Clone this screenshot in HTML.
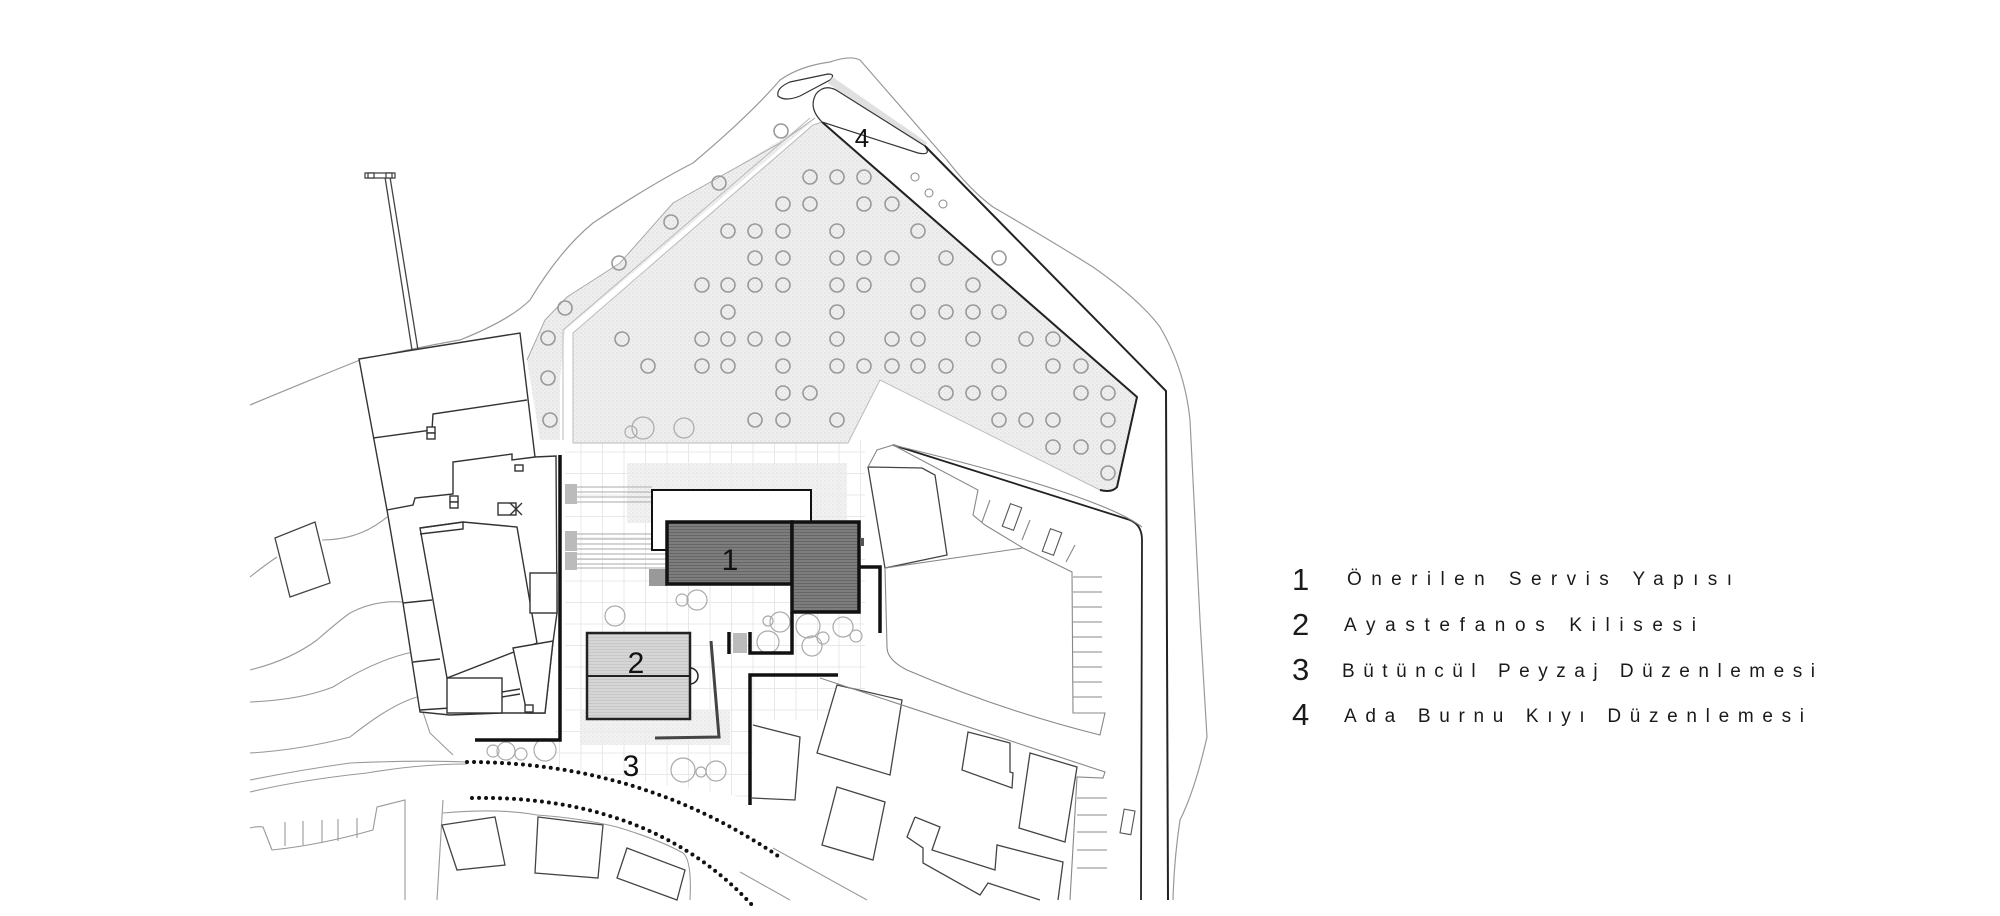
<!DOCTYPE html>
<html><head><meta charset="utf-8"><style>
html,body{margin:0;padding:0;background:#fff;}
svg{display:block;}
</style></head><body>
<svg width="2000" height="916" viewBox="0 0 2000 916" xmlns="http://www.w3.org/2000/svg">
<defs>
<pattern id="grid" width="21.5" height="21.5" patternUnits="userSpaceOnUse">
<rect width="21.5" height="21.5" fill="#fff"/>
<path d="M0 0H21.5M0 0V21.5" stroke="#e8e8e8" stroke-width="2" fill="none"/>
</pattern>
<pattern id="dots" width="4" height="4" patternUnits="userSpaceOnUse">
<rect width="4" height="4" fill="#efefef"/>
<circle cx="1" cy="1" r="0.7" fill="#d8d8d8"/>
<circle cx="3" cy="3" r="0.6" fill="#e0e0e0"/>
</pattern>
<pattern id="hatch" width="4" height="3" patternUnits="userSpaceOnUse">
<rect width="4" height="3" fill="#7d7d7d"/>
<path d="M0 1.5H4" stroke="#666" stroke-width="1"/>
</pattern>
<pattern id="hatch2" width="4" height="3" patternUnits="userSpaceOnUse">
<rect width="4" height="3" fill="#d6d6d6"/>
<path d="M0 1.5H4" stroke="#c8c8c8" stroke-width="1"/>
</pattern>
</defs>

<rect x="565" y="440" width="300" height="280" fill="url(#grid)"/>
<path d="M555 720 H760 V800 Q640 780 555 770 Z" fill="url(#grid)"/>
<rect x="590" y="400" width="125" height="45" fill="url(#grid)"/>
<rect x="627" y="463" width="220" height="60" fill="url(#dots)" opacity="0.8"/>
<rect x="580" y="710" width="150" height="35" fill="url(#dots)" opacity="0.8"/>

<path d="M573 443 L573 333 L813 125 L822 122 L1137 397 L1117 487 Q1112 493 1100 490 L880 380 L848 443 Z" fill="url(#dots)" stroke="#bbb" stroke-width="1"/>
<path d="M527 360 L545 320 L567 297 L620 263 L673 203 L740 165 L800 128 L812 122 L565 330 L560 380 L560 440 L540 440 Z" fill="url(#dots)"/>
<path d="M527 360 L545 320 L567 297 L620 263 L673 203 L780 143 L815 118" fill="none" stroke="#aaa" stroke-width="1"/>
<path d="M563 440 L563 330 L810 118" fill="none" stroke="#bbb" stroke-width="1"/>
<path d="M822 122 L1137 397 L1117 487 Q1112 493 1100 490" fill="none" stroke="#222" stroke-width="2"/>

<path d="M250 405 Q310 380 360 360 Q430 345 460 340 Q510 320 530 300 Q560 250 593 223 Q650 185 693 163 Q750 115 780 80 Q800 66 830 62 Q850 55 860 60 L947 160 Q970 190 993 207 Q1050 240 1093 267 Q1140 300 1160 327 Q1185 370 1190 420 Q1195 520 1200 620 Q1205 700 1207 737 Q1195 790 1180 820 Q1174 860 1173 900" fill="none" stroke="#999" stroke-width="1.2"/>
<path d="M778 96 Q776 88 790 82 L828 74 Q836 74 830 80 Q815 88 800 96 Q785 102 778 96 Z" fill="#fff" stroke="#333" stroke-width="1.2"/>
<path d="M830 80 L925 146" stroke="#ccc" stroke-width="8" fill="none" opacity="0.6"/>
<path d="M822 122 Q808 108 816 94 Q824 84 836 90 L925 146 Q932 156 918 153 Z" fill="#fff" stroke="#333" stroke-width="1.2"/>
<path d="M925 146 L1166 391 L1168 900" fill="none" stroke="#222" stroke-width="2"/>
<path d="M893 445 L1130 520 Q1142 525 1142 540 L1141 900" fill="none" stroke="#222" stroke-width="1.8"/>
<circle cx="915" cy="177" r="4" fill="none" stroke="#888"/>
<circle cx="929" cy="193" r="4" fill="none" stroke="#888"/>
<circle cx="943" cy="204" r="4" fill="none" stroke="#888"/>

<g fill="none" stroke="#999" stroke-width="1.6">
<circle cx="810" cy="177" r="7"/><circle cx="837" cy="177" r="7"/><circle cx="864" cy="177" r="7"/>
<circle cx="783" cy="204" r="7"/><circle cx="810" cy="204" r="7"/><circle cx="864" cy="204" r="7"/><circle cx="892" cy="204" r="7"/>
<circle cx="728" cy="231" r="7"/><circle cx="755" cy="231" r="7"/><circle cx="783" cy="231" r="7"/><circle cx="837" cy="231" r="7"/><circle cx="918" cy="231" r="7"/>
<circle cx="755" cy="258" r="7"/><circle cx="783" cy="258" r="7"/><circle cx="837" cy="258" r="7"/><circle cx="864" cy="258" r="7"/><circle cx="892" cy="258" r="7"/><circle cx="946" cy="258" r="7"/><circle cx="999" cy="258" r="7"/>
<circle cx="702" cy="285" r="7"/><circle cx="728" cy="285" r="7"/><circle cx="755" cy="285" r="7"/><circle cx="783" cy="285" r="7"/><circle cx="837" cy="285" r="7"/><circle cx="864" cy="285" r="7"/><circle cx="918" cy="285" r="7"/><circle cx="973" cy="285" r="7"/>
<circle cx="728" cy="312" r="7"/><circle cx="837" cy="312" r="7"/><circle cx="918" cy="312" r="7"/><circle cx="946" cy="312" r="7"/><circle cx="973" cy="312" r="7"/><circle cx="999" cy="312" r="7"/>
<circle cx="622" cy="339" r="7"/><circle cx="702" cy="339" r="7"/><circle cx="728" cy="339" r="7"/><circle cx="755" cy="339" r="7"/><circle cx="783" cy="339" r="7"/><circle cx="837" cy="339" r="7"/><circle cx="892" cy="339" r="7"/><circle cx="918" cy="339" r="7"/><circle cx="973" cy="339" r="7"/><circle cx="1026" cy="339" r="7"/><circle cx="1053" cy="339" r="7"/>
<circle cx="648" cy="366" r="7"/><circle cx="702" cy="366" r="7"/><circle cx="728" cy="366" r="7"/><circle cx="783" cy="366" r="7"/><circle cx="837" cy="366" r="7"/><circle cx="864" cy="366" r="7"/><circle cx="892" cy="366" r="7"/><circle cx="918" cy="366" r="7"/><circle cx="946" cy="366" r="7"/><circle cx="999" cy="366" r="7"/><circle cx="1053" cy="366" r="7"/><circle cx="1081" cy="366" r="7"/>
<circle cx="783" cy="393" r="7"/><circle cx="810" cy="393" r="7"/><circle cx="946" cy="393" r="7"/><circle cx="973" cy="393" r="7"/><circle cx="999" cy="393" r="7"/><circle cx="1081" cy="393" r="7"/><circle cx="1108" cy="393" r="7"/>
<circle cx="755" cy="420" r="7"/><circle cx="783" cy="420" r="7"/><circle cx="837" cy="420" r="7"/><circle cx="999" cy="420" r="7"/><circle cx="1026" cy="420" r="7"/><circle cx="1053" cy="420" r="7"/><circle cx="1108" cy="420" r="7"/>
<circle cx="1053" cy="447" r="7"/><circle cx="1081" cy="447" r="7"/><circle cx="1108" cy="447" r="7"/>
<circle cx="1108" cy="473" r="7"/>
<circle cx="671" cy="222" r="7"/><circle cx="719" cy="183" r="7"/><circle cx="619" cy="263" r="7"/><circle cx="565" cy="308" r="7"/><circle cx="548" cy="338" r="7"/><circle cx="548" cy="378" r="7"/><circle cx="550" cy="420" r="7"/><circle cx="781" cy="131" r="7"/>
<g stroke="#aaa" stroke-width="1.2">
<circle cx="643" cy="428" r="11"/><circle cx="631" cy="432" r="6"/><circle cx="684" cy="428" r="10"/>
<circle cx="615" cy="616" r="10"/><circle cx="682" cy="600" r="6"/><circle cx="697" cy="600" r="10"/>
<circle cx="768" cy="642" r="11"/><circle cx="780" cy="622" r="10"/><circle cx="768" cy="621" r="5"/><circle cx="808" cy="626" r="12"/><circle cx="812" cy="646" r="10"/><circle cx="823" cy="638" r="6"/><circle cx="843" cy="627" r="10"/><circle cx="856" cy="636" r="6"/>
<circle cx="493" cy="751" r="6"/><circle cx="506" cy="751" r="9"/><circle cx="521" cy="754" r="6"/><circle cx="545" cy="750" r="11"/>
<circle cx="683" cy="770" r="12"/><circle cx="701" cy="772" r="5"/><circle cx="716" cy="771" r="10"/>
</g>
</g>

<g fill="none" stroke="#999" stroke-width="1.1">
<path d="M250 577 Q265 565 277 557"/>
<path d="M322 540 Q360 540 387 517"/>
<path d="M250 670 Q290 660 317 640 Q340 620 350 613 Q375 600 402 602"/>
<path d="M250 702 Q300 700 333 687 Q375 660 413 652"/>
<path d="M250 753 Q300 750 350 737 Q390 705 417 697"/>
<path d="M250 780 Q300 770 350 763 Q420 760 467 762"/>
<path d="M250 792 Q300 780 367 773 Q420 764 467 764"/>
<path d="M423 712 L430 733 L453 755"/>
<path d="M250 828 Q258 826 263 827 L272 850 Q320 845 373 830 L377 807 L405 800 L405 900"/>
<path d="M285 822V846M303 821V845M322 820V843M338 819V841M357 818V838"/>
<path d="M443 800 L437 900"/>
<path d="M443 813 Q500 808 537 815 Q580 818 617 827 Q660 840 683 853 Q692 860 690 900"/>
<path d="M740 872 L790 900M773 848 L867 900"/>
</g>
<path d="M275 538 L315 522 L330 583 L290 597 Z" fill="none" stroke="#444" stroke-width="1.3"/>

<g fill="#fff" stroke="#444" stroke-width="1.3">
<path d="M412 350 L385 177 M418 350 L390 177" fill="none"/>
<rect x="365" y="173" width="30" height="5"/>
<rect x="368" y="173" width="6" height="5"/><rect x="386" y="173" width="6" height="5"/>
</g>

<g fill="#fff" stroke="#333" stroke-width="1.4">
<path d="M359 359 L413 350 L520 333 L535 457 L556 456 L557 613 L553 642 L545 713 L527 713 L502 713 L450 715 L420 712 L403 603 L387 510 Z"/>
<path d="M373 438 L432 430 L433 414 L527 400" fill="none"/>
<path d="M387 510 L413 505 L415 498 L453 494 L453 462 L512 454 L512 460 L535 457" fill="none"/>
<path d="M420 528 L463 522 L517 527 L537 643 L447 678 Z"/>
<path d="M420 528 L463 522 L463 529 L420 534" fill="none"/>
<path d="M403 603 L432 600 M413 662 L440 659 M420 710 L450 708" fill="none"/>
<rect x="447" y="678" width="55" height="35"/>
<path d="M513 648 L553 641 L545 713 L527 713 Z"/>
<rect x="530" y="573" width="27" height="40"/>
<path d="M502 692 L520 689 M502 697 L520 694" fill="none"/>
<rect x="427" y="427" width="8" height="6"/><rect x="427" y="433" width="8" height="6"/>
<rect x="450" y="496" width="8" height="6"/><rect x="450" y="502" width="8" height="6"/>
<rect x="515" y="465" width="8" height="6"/>
<rect x="498" y="503" width="18" height="12"/><path d="M510 503 L522 515 M522 503 L510 515" fill="none"/>
<rect x="525" y="705" width="8" height="7"/>
</g>

<g fill="none" stroke="#111" stroke-width="3.5">
<path d="M560 455 L560 740 L475 740"/>
<path d="M859 567 L880 567 L880 633"/>
<path d="M729 632 L729 654"/>
<path d="M750 632 L750 653 L792 653 L792 612"/>
<path d="M838 675 L750 675 L750 805"/>
</g>
<path d="M711 641 L719 737 L655 738" fill="none" stroke="#444" stroke-width="3"/>

<g stroke="#aaa" stroke-width="1" fill="none">
<path d="M565 487H652M565 492H652M565 497H652M565 502H652"/>
<path d="M565 534H652M565 539H652M565 544H652M565 549H652"/>
<path d="M565 554H667M565 559H667M565 564H667M565 568H667"/>
</g>
<rect x="565" y="484" width="12" height="20" fill="#bbb"/>
<rect x="565" y="531" width="12" height="20" fill="#bbb"/>
<rect x="565" y="552" width="12" height="18" fill="#bbb"/>
<rect x="733" y="633" width="14" height="20" fill="#bbb"/>

<rect x="652" y="490" width="159" height="60" fill="#fff" stroke="#111" stroke-width="2"/>
<rect x="649" y="569" width="18" height="17" fill="#999"/>
<rect x="667" y="522" width="125" height="62" fill="url(#hatch)" stroke="#111" stroke-width="3.5"/>
<rect x="792" y="522" width="67" height="90" fill="url(#hatch)" stroke="#111" stroke-width="3.5"/>
<rect x="860" y="538" width="4" height="8" fill="#555"/>
<text x="730" y="570" font-family="Liberation Sans, sans-serif" font-size="30" text-anchor="middle" fill="#111">1</text>

<rect x="587" y="633" width="103" height="86" fill="url(#hatch2)" stroke="#222" stroke-width="2.5"/>
<path d="M587 676 H690" stroke="#222" stroke-width="2"/>
<path d="M690 668 A8 8 0 0 1 690 684" fill="none" stroke="#222" stroke-width="1.5"/>
<text x="636" y="673" font-family="Liberation Sans, sans-serif" font-size="30" text-anchor="middle" fill="#111">2</text>
<text x="631" y="776" font-family="Liberation Sans, sans-serif" font-size="30" text-anchor="middle" fill="#111">3</text>
<text x="862" y="147" font-family="Liberation Sans, sans-serif" font-size="26" text-anchor="middle" fill="#111">4</text>

<g fill="none" stroke="#111" stroke-width="4" stroke-linecap="round" stroke-dasharray="0 7">
<path d="M467 762 Q640 762 778 856"/>
<path d="M472 798 Q650 795 752 905"/>
</g>

<g fill="#fff" stroke="#444" stroke-width="1.3">
<path d="M442 825 L495 817 L505 865 L457 870 Z"/>
<path d="M538 817 L603 825 L598 878 L535 873 Z"/>
<path d="M627 848 L685 870 L677 900 L617 878 Z"/>
<path d="M837 685 L902 700 L890 775 L817 753 Z"/>
<path d="M753 725 L800 737 L795 800 L752 798"/>
<path d="M837 787 L885 802 L873 860 L822 845 Z"/>
<path d="M968 732 L1010 743 L1010 772 L1013 773 L1012 788 L962 770 Z"/>
<path d="M1030 753 L1077 767 L1065 842 L1019 828 Z"/>
<path d="M915 817 L940 827 L932 850 L995 870 L997 845 L1063 862 L1058 900 M915 817 L907 837 L923 848 L923 863 L980 895 L988 883 L1040 900" fill="none"/>
</g>

<g fill="none" stroke="#888" stroke-width="1.1">
<path d="M868 467 L922 468 L935 475 L947 555 L885 568 Z" stroke="#444" stroke-width="1.3"/>
<path d="M868 467 L877 450 L893 445 L978 490 L973 515 L985 525 L1023 548 L1072 572 L1073 713 L1105 713 L1100 735 Q1000 710 907 670 Q887 660 887 647 L885 568"/>
<path d="M885 568 L1023 548"/>
<path d="M1073 577H1102M1073 592H1102M1073 607H1102M1073 622H1102M1073 637H1102M1073 652H1102M1073 667H1102M1073 682H1102M1073 697H1102"/>
<path d="M990 500 L982 522 M1030 520 L1022 540 M1075 545 L1066 562"/>
<path d="M820 678 L1105 772 L1103 778 L1077 777 L1070 900"/>
<path d="M1077 798H1107M1077 815H1107M1077 832H1107M1077 850H1107M1077 868H1107"/>
<path d="M1142 527 Q1100 495 893 445"/>
</g>
<g fill="#fff" stroke="#555" stroke-width="1.1">
<rect x="1006" y="505" width="12" height="24" transform="rotate(20 1012 517)"/>
<rect x="1046" y="530" width="12" height="24" transform="rotate(20 1052 542)"/>
<rect x="1122" y="810" width="11" height="24" transform="rotate(10 1128 822)"/>
</g>

<g font-family="Liberation Sans, DejaVu Sans, sans-serif" fill="#1a1a1a">
<text x="1292" y="590" font-size="31">1</text>
<text x="1292" y="635" font-size="31">2</text>
<text x="1292" y="680" font-size="31">3</text>
<text x="1292" y="725" font-size="31">4</text>
<text x="1347" y="585" font-size="19" textLength="385" lengthAdjust="spacing">Önerilen Servis Yapısı</text>
<text x="1344" y="631" font-size="19" textLength="352" lengthAdjust="spacing">Ayastefanos Kilisesi</text>
<text x="1342" y="677" font-size="19" textLength="473" lengthAdjust="spacing">Bütüncül Peyzaj Düzenlemesi</text>
<text x="1344" y="722" font-size="19" textLength="460" lengthAdjust="spacing">Ada Burnu Kıyı Düzenlemesi</text>
</g>
</svg>
</body></html>
